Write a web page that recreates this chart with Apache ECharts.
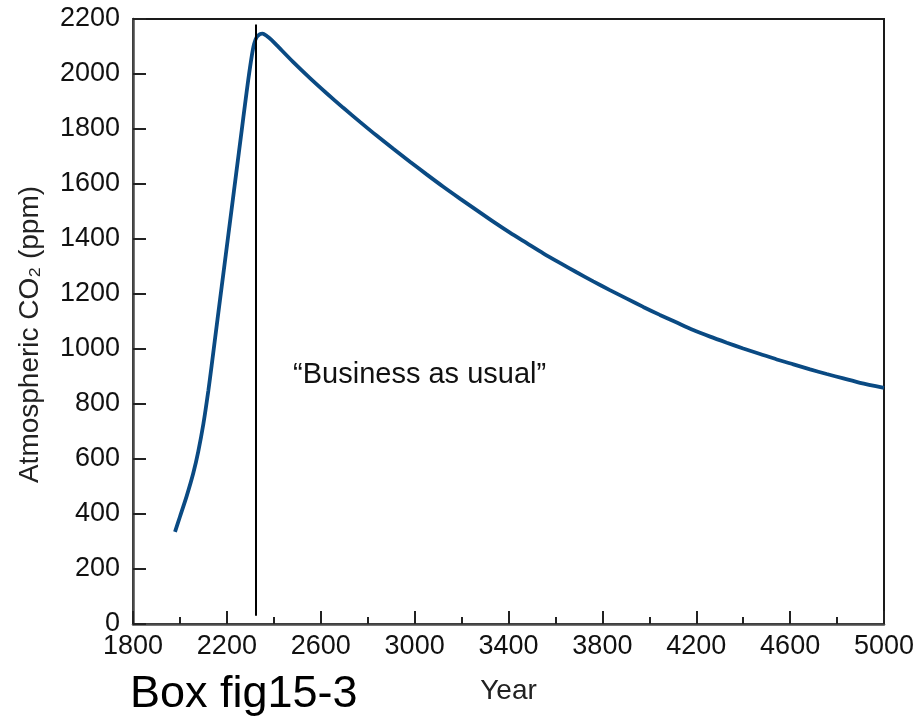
<!DOCTYPE html>
<html>
<head>
<meta charset="utf-8">
<script src="https://cdn.jsdelivr.net/npm/echarts@6/dist/echarts.min.js"></script>
<style>html,body{margin:0;padding:0;background:#fff}#c{width:918px;height:721px}</style>
</head>
<body>
<div id="c"></div>
<script>
// Data
const years = [1979,2000,2029,2057,2078,2100,2121,2135,2149,2171,2185,2206,2221,2239,2263,2277,2291,2306,2316,2327,2341,2352,2370,2390,2412,2483,2554,2625,2696,2767,2838,2909,2980,3051,3122,3193,3264,3335,3406,3478,3548,3619,3690,3761,3832,3904,3974,4045,4117,4187,4259,4330,4400,4472,4543,4614,4685,4756,4827,4898,5000];
const co2 = [335,390,466,549,627,728,848,939,1034,1181,1274,1414,1514,1634,1794,1887,1978,2065,2109,2134,2145,2147,2138,2124,2105,2043,1985,1930,1877,1826,1776,1728,1681,1635,1590,1547,1505,1463,1423,1385,1348,1313,1279,1246,1214,1183,1153,1124,1096,1069,1045,1023,1002,982,962,944,926,909,893,877,859];
const markerYear = 2325;
const markerRange = [30, 2180];
const annotationText = '\u201CBusiness as usual\u201D';
const annotationAt = [2482, 905];
const xTicks = {min: 1800, max: 5000, step: 400};
const yTicks = {min: 0, max: 2200, step: 200};
const xName = 'Year';
const yName = 'Atmospheric CO\u2082 (ppm)';
const caption = 'Box fig15-3';

const font = '"Liberation Sans", Arial, Helvetica, sans-serif';
const chart = echarts.init(document.getElementById('c'), null, {renderer: 'canvas'});
chart.setOption({
  animation: false,
  backgroundColor: '#fff',
  grid: {left: 133, right: 34, top: 19, bottom: 97, show: true, borderColor: '#1a1a1a', borderWidth: 2, backgroundColor: 'transparent'},
  xAxis: {
    type: 'value', min: xTicks.min, max: xTicks.max, interval: xTicks.step,
    name: xName, nameLocation: 'middle', nameGap: 53,
    nameTextStyle: {fontFamily: font, fontSize: 28, color: '#222'},
    axisLine: {show: true, lineStyle: {color: '#4a4a4a', width: 2.5}},
    axisTick: {show: true, inside: true, length: 13, lineStyle: {color: '#222', width: 2}},
    minorTick: {show: true, splitNumber: 2, length: 7, lineStyle: {color: '#222', width: 2}},
    axisLabel: {fontFamily: font, fontSize: 27, color: '#111', margin: 9, formatter: v => String(v)},
    splitLine: {show: false}
  },
  yAxis: {
    type: 'value', min: yTicks.min, max: yTicks.max, interval: yTicks.step,
    name: yName, nameLocation: 'middle', nameGap: 89, nameRotate: 90,
    nameTextStyle: {fontFamily: font, fontSize: 28, color: '#222', padding: [0, 26, 0, 0]},
    axisLine: {show: true, lineStyle: {color: '#4a4a4a', width: 2.5}},
    axisTick: {show: true, inside: true, length: 13, lineStyle: {color: '#222', width: 2}},
    axisLabel: {fontFamily: font, fontSize: 27, color: '#111', margin: 13, formatter: v => String(v)},
    splitLine: {show: false}
  },
  graphic: [{
    type: 'text', left: 130, top: 672,
    style: {text: caption, font: '45px ' + font, fill: '#000'}
  }],
  series: [{
    type: 'line',
    data: years.map((y, i) => [y, co2[i]]),
    smooth: 0.25,
    showSymbol: false,
    lineStyle: {color: '#0a4a83', width: 3.8},
    markLine: {
      silent: true, symbol: ['none', 'none'],
      lineStyle: {color: '#000', width: 2, type: 'solid'},
      label: {show: false},
      data: [[{coord: [markerYear, markerRange[0]]}, {coord: [markerYear, markerRange[1]]}]]
    },
    markPoint: {
      silent: true, symbol: 'circle', symbolSize: 0,
      label: {show: true, position: 'right', distance: 0, formatter: annotationText, fontFamily: font, fontSize: 29, color: '#111'},
      data: [{coord: annotationAt}]
    }
  }]
});
</script>
</body>
</html>
